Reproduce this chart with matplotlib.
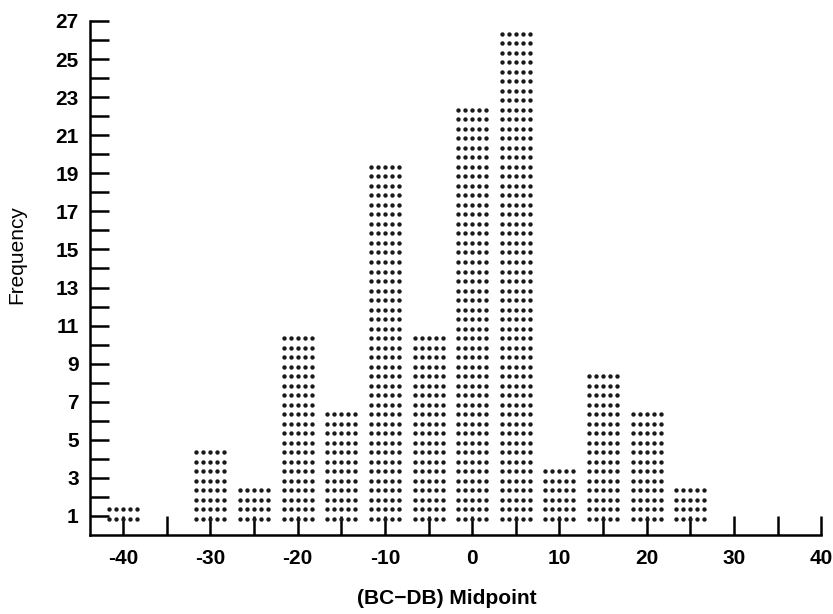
import matplotlib
matplotlib.use("Agg")
import matplotlib.pyplot as plt
import numpy as np

# Data
midpoints = [-40, -35, -30, -25, -20, -15, -10, -5, 0, 5, 10, 15, 20, 25, 30, 35, 40]
frequency = [1, 0, 4, 2, 10, 6, 19, 10, 22, 26, 3, 8, 6, 2, 0, 0, 0]
x_ticks = [-40, -35, -30, -25, -20, -15, -10, -5, 0, 5, 10, 15, 20, 25, 30, 35, 40]
x_labels = ["-40", "", "-30", "", "-20", "", "-10", "", "0", "", "10", "", "20", "", "30", "", "40"]
y_major = list(range(1, 28, 2))
y_minor = list(range(2, 27, 2))

plt.rcParams['font.family'] = ['Liberation Sans', 'DejaVu Sans']

fig = plt.figure(figsize=(8.33, 6.14), dpi=100)
ax = fig.add_axes([0.108, 0.1287, 0.88, 0.8371])

# dotted bars: each count drawn as two rows of five dots
dot_cols = np.array([-1.6, -0.8, 0.0, 0.8, 1.6])
xs, ys = [], []
for m, f in zip(midpoints, frequency):
    for k in range(2 * f):
        yv = 0.84 + 0.5 * k
        for dc in dot_cols:
            xs.append(m + dc)
            ys.append(yv)
ax.scatter(xs, ys, s=10, color='#1a1a1a', marker='o', linewidths=0, zorder=3)

ax.set_xlim(-43.8, 40.2)
ax.set_ylim(0, 27)

for s in ['top', 'right']:
    ax.spines[s].set_visible(False)
ax.spines['left'].set_linewidth(1.8)
ax.spines['bottom'].set_linewidth(1.8)
ax.spines['left'].set_bounds(0, 27)
ax.spines['bottom'].set_bounds(-43.8, 40)

ax.set_xticks(x_ticks)
ax.set_xticklabels(x_labels)
ax.set_yticks(y_major)
ax.set_yticks(y_minor, minor=True)
ax.tick_params(axis='x', direction='in', length=14, width=1.8, pad=10, labelsize=15)
ax.tick_params(axis='y', which='both', direction='in', length=14, width=1.8, pad=8, labelsize=15)
for lab in ax.get_xticklabels() + ax.get_yticklabels():
    lab.set_fontweight('bold')

ax.set_ylabel('Frequency', fontsize=15)
ax.yaxis.set_label_coords(-0.087, 0.545)
ax.set_xlabel('(BC\u2212DB) Midpoint', fontsize=15, fontweight='bold')
ax.xaxis.set_label_coords(0.487, -0.105)

fig.savefig('out.png', dpi=100)
